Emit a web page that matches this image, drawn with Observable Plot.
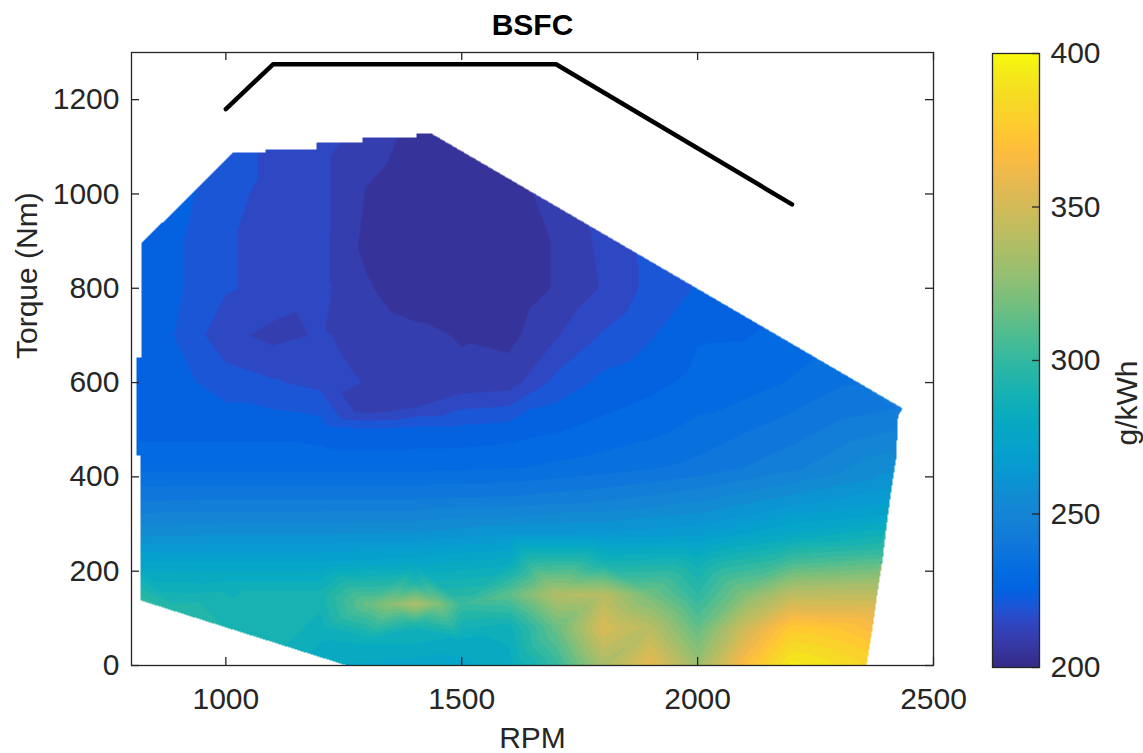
<!DOCTYPE html>
<html><head><meta charset="utf-8">
<script src="https://cdn.jsdelivr.net/npm/d3@7"></script>
<script src="https://cdn.jsdelivr.net/npm/@observablehq/plot@0.6"></script>
<style>
body{margin:0;background:#fff;}
#wrap{position:relative;width:1143px;height:753px;}
#wrap svg{position:absolute;top:0;}
</style></head><body><div id="wrap"></div>
<script>
// ---------- data ----------
const title = "BSFC";
const xLabel = "RPM";
const yLabel = "Torque (Nm)";
const colorLabel = "g/kWh";
const xTicks = [1000, 1500, 2000, 2500];
const yTicks = [0, 200, 400, 600, 800, 1000, 1200];
const cTicks = [200, 250, 300, 350, 400];
const contourStep = 5; // g/kWh between filled contour levels

// max torque curve
const maxTorqueRpm = [1000, 1100, 1700, 2200];
const maxTorqueNm  = [1180, 1275, 1275, 978];

// operating envelope of the map
const envelopeRpm = [819, 819, 811, 811, 821, 821, 1015, 1083, 1083, 1193, 1193, 1290, 1290, 1404, 1404, 1436, 2435, 2425, 2421, 2411, 2401, 2392, 2381, 2371, 2358, 1256];
const envelopeNm  = [138, 445, 445, 653, 653, 895, 1088, 1088, 1095, 1095, 1109, 1109, 1120, 1120, 1128, 1128, 545, 530, 441, 375, 301, 223, 153, 81, 0, 0];

// BSFC samples (rpm, torque, g/kWh)
const sampleRpm = [
  815,815,815,815,815,815,815,815,815,815,815,
  900,900,900,900,900,900,900,
  1015,
  1000,1000,1000,1000,1000,1000,1000,1000,1000,1000,1000,1000,
  1100,1100,1100,1100,1100,1100,1100,1100,
  1200,1200,1200,1200,1200,1200,1200,1200,1200,1200,1200,1200,1200,1200,
  1300,1300,1300,1300,1300,1300,1300,1300,1300,1300,
  1256,
  1350,1450,
  1400,1400,1400,1400,1400,1400,1400,1400,1400,1400,1400,1400,1400,1400,1400,1400,
  1436,
  1500,1500,1500,1500,1500,1500,1500,1500,1500,1500,
  1600,1600,1600,1600,1600,1600,1600,1600,1600,1600,1600,1600,1600,
  1700,1700,1700,1700,1700,1700,1700,1700,1700,
  1800,1800,1800,1800,1800,1800,1800,1800,1800,1800,1800,1800,
  1900,1900,1900,1900,1900,1900,1900,1900,
  2000,2000,2000,2000,2000,2000,2000,2000,2000,2000,2000,
  2100,2100,2100,2100,2100,2100,
  2200,2200,2200,2200,2200,2200,2200,2200,2200,2200,
  2300,2300,2300,2300,
  2430,2420,2410,2400,2390,2382,2373,2365,2357
];
const sampleNm = [
  895,800,700,600,500,420,350,280,220,180,140,
  974,900,800,700,600,500,112,
  1088,
  1000,900,800,700,600,500,420,350,280,220,160,82,
  1090,1000,900,800,700,600,500,50,
  1100,1000,900,800,700,600,500,420,350,280,220,150,80,18,
  1110,1000,900,800,700,600,550,500,130,50,
  0,
  130,130,
  1122,1000,900,800,700,600,550,500,420,350,280,220,180,130,80,0,
  1128,
  1090,1000,900,800,700,600,500,130,50,0,
  1032,900,800,700,600,500,420,350,280,220,150,80,0,
  974,900,800,700,600,500,150,80,0,
  916,800,700,600,500,420,350,280,220,150,80,0,
  857,800,700,600,500,150,80,0,
  799,700,600,500,420,350,280,220,150,80,0,
  741,600,500,150,80,0,
  682,600,500,420,350,280,220,150,80,0,
  624,500,80,0,
  540,460,390,320,250,180,110,40,0
];
const sampleBsfc = [
  228,227,226,225,226,231,242,256,273,288,300,
  224,223,223,222,224,226,297,
  220,
  219,218,218,214,220,226,231,243,257,272,287,292,
  216,216,216,216,211,218,226,290,
  214,214,214,214,213,216,225,231,243,257,272,290,285,280,
  210,207,206,208,211,212,208,223,315,283,
  277,
  325,322,
  206,204,203,204,209,210,212,224,231,243,258,275,290,335,288,275,
  206,
  205,203,203,203,207,209,224,302,280,276,
  206,204,204,206,210,225,232,244,262,280,312,285,280,
  209,208,208,212,219,227,338,315,300,
  214,213,218,224,229,235,247,263,288,340,352,335,
  219,219,222,226,231,318,340,358,
  223,227,229,234,239,252,266,285,298,313,330,
  226,230,237,322,348,368,
  230,233,240,246,260,278,305,342,375,395,
  235,244,372,388,
  243,252,260,272,296,330,358,375,382
];

// ---------- parula colormap (style) ----------
const parula = [[0.2081,0.1663,0.5292],[0.2116,0.1898,0.5777],[0.2123,0.2138,0.6270],[0.2081,0.2386,0.6771],[0.1959,0.2645,0.7279],[0.1707,0.2919,0.7792],[0.1253,0.3242,0.8303],[0.0591,0.3598,0.8683],[0.0117,0.3875,0.8820],[0.0060,0.4086,0.8828],[0.0165,0.4266,0.8786],[0.0329,0.4430,0.8720],[0.0498,0.4586,0.8641],[0.0629,0.4737,0.8554],[0.0723,0.4887,0.8467],[0.0779,0.5040,0.8384],[0.0793,0.5200,0.8312],[0.0749,0.5375,0.8263],[0.0641,0.5570,0.8240],[0.0488,0.5772,0.8228],[0.0343,0.5966,0.8199],[0.0265,0.6137,0.8135],[0.0239,0.6287,0.8038],[0.0231,0.6418,0.7913],[0.0228,0.6535,0.7768],[0.0267,0.6642,0.7607],[0.0384,0.6743,0.7436],[0.0590,0.6838,0.7254],[0.0843,0.6928,0.7062],[0.1133,0.7015,0.6859],[0.1453,0.7098,0.6646],[0.1801,0.7177,0.6424],[0.2178,0.7250,0.6193],[0.2586,0.7317,0.5954],[0.3022,0.7376,0.5712],[0.3482,0.7424,0.5473],[0.3953,0.7459,0.5244],[0.4420,0.7481,0.5033],[0.4871,0.7491,0.4840],[0.5300,0.7491,0.4661],[0.5709,0.7485,0.4494],[0.6099,0.7473,0.4337],[0.6473,0.7456,0.4188],[0.6834,0.7435,0.4044],[0.7184,0.7411,0.3905],[0.7525,0.7384,0.3768],[0.7858,0.7356,0.3633],[0.8185,0.7327,0.3498],[0.8507,0.7299,0.3360],[0.8824,0.7274,0.3217],[0.9139,0.7258,0.3063],[0.9450,0.7261,0.2886],[0.9739,0.7314,0.2666],[0.9938,0.7455,0.2403],[0.9990,0.7653,0.2164],[0.9955,0.7861,0.1967],[0.9880,0.8066,0.1794],[0.9789,0.8271,0.1633],[0.9697,0.8481,0.1475],[0.9626,0.8705,0.1309],[0.9589,0.8949,0.1132],[0.9598,0.9218,0.0948],[0.9661,0.9514,0.0755],[0.9763,0.9831,0.0538]];
const cMin = 200, cMax = 400;
const colorScale = {
  type: "linear",
  domain: parula.map((_, i) => cMin + (cMax - cMin) * i / (parula.length - 1)),
  range: parula.map(([r, g, b]) => d3.rgb(r * 255, g * 255, b * 255).formatHex()),
  clamp: true
};

// ---------- barycentric interpolation over the samples, filled contours ----------
const pts = sampleRpm.map((r, i) => [r, sampleNm[i]]);
const delaunay = d3.Delaunay.from(pts);
const T = delaunay.triangles;
const tris = [];
for (let t = 0; t < T.length; t += 3) {
  const a = T[t], b = T[t + 1], c = T[t + 2];
  const [ax, ay] = pts[a], [bx, by] = pts[b], [cx, cy] = pts[c];
  const det = (by - cy) * (ax - cx) + (cx - bx) * (ay - cy);
  if (Math.abs(det) < 1e-9) continue;
  tris.push({a, b, c, ax, ay, bx, by, cx, cy, det,
    x0: Math.min(ax, bx, cx), x1: Math.max(ax, bx, cx),
    y0: Math.min(ay, by, cy), y1: Math.max(ay, by, cy)});
}
const envelope = envelopeRpm.map((r, i) => [r, envelopeNm[i]]);
function interp(x, y) {
  for (const t of tris) {
    if (x < t.x0 || x > t.x1 || y < t.y0 || y > t.y1) continue;
    const l1 = ((t.by - t.cy) * (x - t.cx) + (t.cx - t.bx) * (y - t.cy)) / t.det;
    const l2 = ((t.cy - t.ay) * (x - t.cx) + (t.ax - t.cx) * (y - t.cy)) / t.det;
    const l3 = 1 - l1 - l2;
    if (l1 >= -1e-7 && l2 >= -1e-7 && l3 >= -1e-7)
      return l1 * sampleBsfc[t.a] + l2 * sampleBsfc[t.b] + l3 * sampleBsfc[t.c];
  }
  return sampleBsfc[delaunay.find(x, y)];
}
function bsfcAt(x, y) {
  if (!d3.polygonContains(envelope, [x, y])) return NaN;
  return Math.round(interp(x, y) / contourStep) * contourStep;
}

// ---------- layout ----------
const ink = "#262626";
const font = "'Liberation Sans', Arial, Helvetica, sans-serif";
const W = 980, H = 753;
const mL = 131, mR = W - 933, mT = 52, mB = H - 665;
const frameW = W - mL - mR, frameH = H - mT - mB;
const fmt = d => String(d);

const main = Plot.plot({
  width: W, height: H,
  marginLeft: mL, marginRight: mR, marginTop: mT, marginBottom: mB,
  x: {domain: [800, 2500]},
  y: {domain: [0, 1300]},
  color: colorScale,
  style: {fontFamily: font, fontSize: "30px", color: ink, background: "transparent", overflow: "visible"},
  marks: [
    Plot.raster({fill: bsfcAt, x1: 800, x2: 2500, y1: 0, y2: 1300, pixelSize: 1}),
    Plot.line(d3.range(maxTorqueRpm.length), {x: i => maxTorqueRpm[i], y: i => maxTorqueNm[i], stroke: "black", strokeWidth: 4.5}),
    Plot.frame({stroke: ink, strokeWidth: 1.3}),
    Plot.tickX(xTicks, {x: d => d, stroke: ink, strokeWidth: 1.3, insetTop: frameH - 8}),
    Plot.tickX(xTicks, {x: d => d, stroke: ink, strokeWidth: 1.3, insetBottom: frameH - 8}),
    Plot.tickY(yTicks, {y: d => d, stroke: ink, strokeWidth: 1.3, insetRight: frameW - 8}),
    Plot.tickY(yTicks, {y: d => d, stroke: ink, strokeWidth: 1.3, insetLeft: frameW - 8}),
    Plot.axisX(xTicks, {tickSize: 0, tickPadding: 22, label: null, tickFormat: fmt, fill: ink}),
    Plot.axisY(yTicks, {tickSize: 0, tickPadding: 12, label: null, tickFormat: fmt, fill: ink}),
    Plot.text([title], {frameAnchor: "top", lineAnchor: "middle", dy: -27, fontWeight: "bold", fontSize: 30, fill: "black"}),
    Plot.text([xLabel], {frameAnchor: "bottom", lineAnchor: "middle", dy: 73, fontSize: 30, fill: ink}),
    Plot.text([yLabel], {frameAnchor: "left", lineAnchor: "middle", dx: -104, rotate: -90, fontSize: 30, fill: ink})
  ]
});

const cbW = 163, cbL = 12, cbFrame = 47;
const colorbar = Plot.plot({
  width: cbW, height: H,
  marginLeft: cbL, marginRight: cbW - cbL - cbFrame, marginTop: 53, marginBottom: H - 667,
  x: {domain: [0, 1], axis: null},
  y: {domain: [cMin, cMax]},
  color: colorScale,
  style: {fontFamily: font, fontSize: "30px", color: ink, background: "transparent", overflow: "visible"},
  marks: [
    Plot.raster({fill: (x, y) => y, x1: 0, x2: 1, y1: cMin, y2: cMax, pixelSize: 1}),
    Plot.frame({stroke: ink, strokeWidth: 1.3}),
    Plot.tickY(cTicks, {y: d => d, stroke: ink, strokeWidth: 1.3, insetLeft: cbFrame - 7}),
    Plot.axisY(cTicks, {anchor: "right", tickSize: 0, tickPadding: 11, label: null, tickFormat: fmt, fill: ink}),
    Plot.text([colorLabel], {frameAnchor: "right", lineAnchor: "middle", dx: 88, rotate: -90, fontSize: 30, fill: ink})
  ]
});

const wrap = document.getElementById("wrap");
main.style.left = "0px";
colorbar.style.left = W + "px";
wrap.appendChild(main);
wrap.appendChild(colorbar);
</script>
</body></html>
